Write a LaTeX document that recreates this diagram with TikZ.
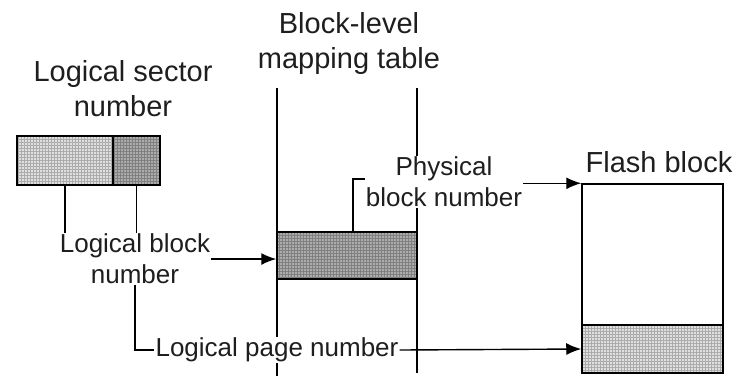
\documentclass[tikz,border=0pt]{standalone}
\usepackage{fontspec}
\setmainfont{Liberation Sans}
\usepackage{xcolor}
\usetikzlibrary{arrows.meta, positioning, patterns}
\definecolor{textgray}{RGB}{30, 30, 30}

\begin{document}
\begin{tikzpicture}[x=1pt, y=-1pt,
    title/.style={align=center, text=textgray, inner sep=1pt, font=\fontsize{29}{35}\selectfont},
    label/.style={align=center, text=textgray, inner sep=1pt, fill=white, font=\fontsize{26}{31}\selectfont},
    light/.style={draw, line width=1.5pt, preaction={fill=gray!25}, pattern=grid, pattern color=gray!65, inner sep=0pt},
    dark/.style={draw, line width=1.5pt, preaction={fill=gray!65}, pattern=grid, pattern color=gray!100, inner sep=0pt},
    wire/.style={line width=1.4pt},
    arrow/.style={-{Latex[length=15pt, width=12pt]}, line width=1.4pt}
]
    \useasboundingbox (0,0) rectangle (751,376);

    % logical sector number
    \node[title] (lsec) at (123, 89) {Logical sector\\number};
    \node[light, minimum width=96, minimum height=49] (secL) at (65, 160.5) {};
    \node[dark, minimum width=47, minimum height=49] (secR) at (136.5, 160.5) {};

    % block-level mapping table
    \node[title] (map) at (349, 43) {Block-level\\mapping table};
    \coordinate (mtl) at (277, 88);
    \coordinate (mtr) at (417, 88);
    \draw[wire] (mtl) -- ++(0, 288);
    \draw[wire] (mtr) -- ++(0, 285);
    \node[dark, minimum width=140, minimum height=47] (blk) at (347, 255.5) {};

    % flash block
    \node[title] (fls) at (659, 162) {Flash block};
    \node[draw, line width=1.5pt, minimum width=141, minimum height=189, inner sep=0pt] (flash) at (652.5, 278.5) {};
    \node[light, minimum width=141, minimum height=48] (page) at (652.5, 349) {};

    % labels
    \node[label] (lbn) at (135, 259) {Logical block\\number};
    \node[label] (pbn) at (444, 182) {Physical\\block number};
    \node[label] (lpn) at (277, 350) {Logical page number};

    % connectors
    \draw[wire] (secL.south) -- (secL.south |- lbn.north);
    \draw[wire] (secR.south) -- (secR.south |- lbn.north);
    \draw[arrow] (lbn.east) -- (lbn.east -| blk.west);
    \draw[wire] (lbn.south) |- (lpn.west);
    \draw[arrow] (lpn.east) -- (page.west);
    \draw[wire] ([xshift=6pt]blk.north) |- ([yshift=3pt]pbn.west);
    \draw[arrow] (pbn.east |- flash.north west) -- (flash.north west);
\end{tikzpicture}
\end{document}
